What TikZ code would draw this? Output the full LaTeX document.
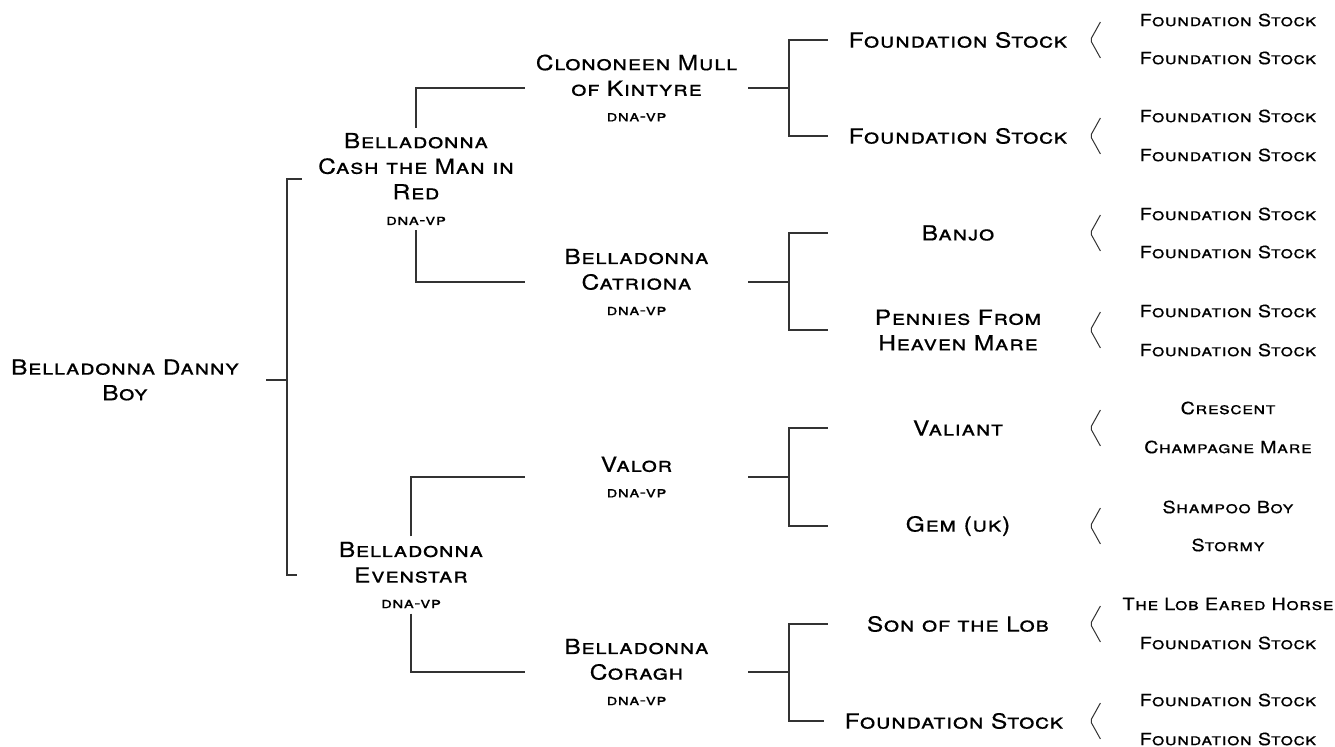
\documentclass[tikz,border=0pt]{standalone}
\usepackage{fontspec}
\setmainfont{TeX Gyre Heros}[LetterSpace=3,FakeStretch=1.18,FakeBold=0.4]
\newcommand*{\reg}[1]{{\fontsize{7.8}{8}\selectfont #1}}
\tikzset{
  horse/.style={align=center, inner xsep=0pt, inner ysep=2.5pt,
    font=\fontsize{10.4}{12.8}\selectfont\scshape},
  sire/.style={horse, minimum width=141pt},
  gen1/.style={horse, minimum width=114pt},
  gen2/.style={horse, minimum width=111.5pt},
  gen3/.style={horse, minimum width=130pt},
  founder/.style={inner sep=1pt, font=\fontsize{8.4}{10}\selectfont\scshape},
  link/.style={draw=black!80, line width=0.75pt},
}

\begin{document}
\begin{tikzpicture}[x=0.5pt, y=-0.5pt]
  \useasboundingbox (0,0) rectangle (1335,747);
  % the horse itself
  \node[sire] (danny) at (125,380) {Belladonna Danny\\Boy};
  % sire and dam
  \node[gen1] (cash) at (416,179) {Belladonna\\Cash the Man in\\Red\\\reg{dna-vp}};
  \node[gen1] (even) at (411,575) {Belladonna\\Evenstar\\\reg{dna-vp}};
  % grandparents
  \node[gen2] (mull) at (636.5,88) {Clononeen Mull\\of Kintyre\\\reg{dna-vp}};
  \node[gen2] (catr) at (636.5,282) {Belladonna\\Catriona\\\reg{dna-vp}};
  \node[gen2] (valor) at (636.5,477) {Valor\\\reg{dna-vp}};
  \node[gen2] (coragh) at (636.5,672) {Belladonna\\Coragh\\\reg{dna-vp}};
  % great-grandparents
  \node[gen3] (f1) at (958,40) {Foundation Stock};
  \node[gen3] (f2) at (958,136) {Foundation Stock};
  \node[gen3] (banjo) at (958,233) {Banjo};
  \node[gen3] (pennies) at (958,330) {Pennies From\\Heaven Mare};
  \node[gen3] (valiant) at (958,428) {Valiant};
  \node[gen3] (gem) at (958,526) {Gem (uk)};
  \node[gen3] (son) at (958,624) {Son of the Lob};
  \node[gen3] (f8) at (954,721) {Foundation Stock};
  % great-great-grandparents
  \foreach \y/\name [count=\i] in {20/Foundation Stock, 58/Foundation Stock,
      116/Foundation Stock, 155/Foundation Stock, 214/Foundation Stock,
      252/Foundation Stock, 311/Foundation Stock, 350/Foundation Stock,
      408/Crescent, 447/Champagne Mare, 507/Shampoo Boy, 545/Stormy,
      604/The Lob Eared Horse, 643/Foundation Stock, 700/Foundation Stock,
      739/Foundation Stock}
    \node[founder] (g\i) at (1228,\y) {\name};

  % junctions
  \coordinate (j0) at (287,380);
  \coordinate (jmull) at (789,88);
  \coordinate (jcatr) at (789,282);
  \coordinate (jvalor) at (789,477);
  \coordinate (jcoragh) at (789,672);

  \begin{scope}[link]
    \draw (danny.east) -- (j0);
    \draw (cash.west) -| (j0) |- (even.west);
    \draw (cash.north) |- (mull.west);
    \draw (cash.south) |- (catr.west);
    \draw (even.north) |- (valor.west);
    \draw (even.south) |- (coragh.west);
    \draw (mull.east) -- (jmull);
    \draw (f1.west) -| (jmull) |- (f2.west);
    \draw (catr.east) -- (jcatr);
    \draw (banjo.west) -| (jcatr) |- (pennies.west);
    \draw (valor.east) -- (jvalor);
    \draw (valiant.west) -| (jvalor) |- (gem.west);
    \draw (coragh.east) -- (jcoragh);
    \draw (son.west) -| (jcoragh) |- (f8.west);
  \end{scope}
  % brackets
  \foreach \n in {f1,f2,banjo,pennies,valiant,gem,son} {
    \draw[link, line width=0.5pt, rounded corners=1pt]
      ([shift={(12,-18)}]\n.east) -- ([shift={(2,0)}]\n.east)
      -- ([shift={(12,18)}]\n.east);
  }
  \draw[link, line width=0.5pt, rounded corners=1pt]
    ([shift={(16,-18)}]f8.east) -- ([shift={(6,0)}]f8.east)
    -- ([shift={(16,18)}]f8.east);
\end{tikzpicture}
\end{document}
